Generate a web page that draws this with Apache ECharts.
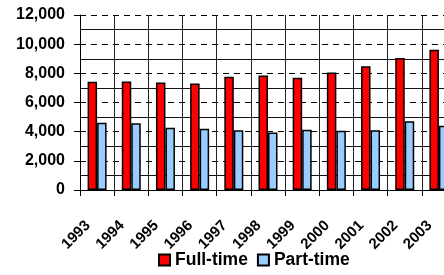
<!DOCTYPE html>
<html>
<head>
<meta charset="utf-8">
<script src="https://cdn.jsdelivr.net/npm/echarts@6/dist/echarts.min.js"></script>
<style>
  html, body { margin: 0; padding: 0; background: #fff; overflow: hidden; }
  body { width: 444px; height: 275px; }
  #chart { width: 505px; height: 275px; }
</style>
</head>
<body>
<div id="chart"></div>
<script>
const years = ['1993', '1994', '1995', '1996', '1997', '1998', '1999', '2000', '2001', '2002', '2003']
const fullTime = [7420, 7440, 7380, 7300, 7760, 7860, 7690, 8060, 8480, 9060, 9610]
const partTime = [4620, 4570, 4270, 4200, 4100, 3950, 4140, 4060, 4100, 4710, 4400]
const yTicks = { min: 0, max: 12000, step: 2000, minorStep: 1000 }

const font = "'Liberation Sans', Arial, sans-serif"
const chart = echarts.init(document.getElementById('chart'), null, { renderer: 'canvas' })

const option = {
  animation: false,
  backgroundColor: '#fff',
  grid: {
    left: 80,
    top: 15,
    width: 376,
    height: 175,
    containLabel: false
  },
  legend: {
    left: 158,
    top: 251,
    padding: 0,
    itemWidth: 11,
    itemHeight: 11,
    itemGap: 9,
    icon: 'rect',
    textStyle: {
      fontFamily: font,
      fontWeight: 'bold',
      fontSize: 17.5,
      color: '#000'
    },
    data: ['Full-time', 'Part-time']
  },
  xAxis: {
    type: 'category',
    data: years,
    boundaryGap: true,
    axisLine: { lineStyle: { color: '#000', width: 1 } },
    axisTick: { show: true, length: 6, lineStyle: { color: '#000' } },
    splitLine: { show: true, lineStyle: { color: '#222', width: 1 } },
    axisLabel: {
      rotate: 45,
      margin: 24,
      padding: [0, 13, 0, 0],
      fontFamily: font,
      fontWeight: 'bold',
      fontSize: 15,
      color: '#000'
    }
  },
  yAxis: [
    {
      // solid lines on the odd thousands, drawn under the dashed ones
      type: 'value',
      min: yTicks.min,
      max: yTicks.max,
      interval: yTicks.minorStep,
      axisLine: { show: false },
      axisTick: { show: false },
      axisLabel: { show: false },
      splitLine: { show: true, lineStyle: { color: ['rgba(0,0,0,0)', '#111'], width: 1 } }
    },
    {
      type: 'value',
      position: 'left',
      min: yTicks.min,
      max: yTicks.max,
      interval: yTicks.step,
      axisLine: { show: true, lineStyle: { color: '#000', width: 1 } },
      axisTick: { show: true, length: 6, lineStyle: { color: '#000' } },
      splitLine: { show: true, lineStyle: { color: '#000', width: 1, type: [6, 5] } },
      axisLabel: {
        margin: 15,
        fontFamily: font,
        fontWeight: 'bold',
        fontSize: 16,
        color: '#000',
        formatter: v => v.toLocaleString('en-US')
      }
    }
  ],
  series: [
    {
      name: 'Full-time',
      type: 'bar',
      yAxisIndex: 1,
      data: fullTime,
      barWidth: 9.5,
      barGap: '0%',
      itemStyle: { color: '#ff0000', borderColor: '#000', borderWidth: 1.5 }
    },
    {
      name: 'Part-time',
      type: 'bar',
      yAxisIndex: 1,
      data: partTime,
      barWidth: 9.5,
      barGap: '0%',
      itemStyle: { color: '#99ccff', borderColor: '#000', borderWidth: 1.5 }
    }
  ]
}
chart.setOption(option)
</script>
</body>
</html>
